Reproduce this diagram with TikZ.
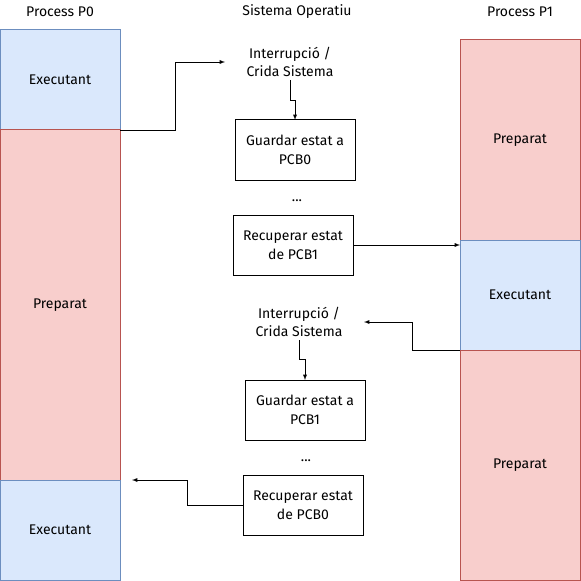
\documentclass[tikz,border=0pt]{standalone}
\usepackage{fontspec}
\setmainfont{Fira Sans}
\usepackage{tikz}
\usepackage{xcolor}
\definecolor{runFill}{HTML}{DAE8FC}
\definecolor{runLine}{HTML}{6C8EBF}
\definecolor{readyFill}{HTML}{F8CECC}
\definecolor{readyLine}{HTML}{B85450}

\begin{document}
\begin{tikzpicture}[x=0.75pt, y=-0.75pt, >=latex,
    every node/.style={outer sep=0pt, font=\fontsize{10.5}{14}\selectfont},
    running/.style={fill=runFill, draw=runLine, line width=0.75pt, minimum width=90pt},
    ready/.style={fill=readyFill, draw=readyLine, line width=0.75pt, minimum width=90pt},
    osbox/.style={draw, line width=0.75pt, minimum width=90pt, minimum height=45pt, align=center, inner sep=1pt},
    event/.style={minimum width=97.5pt, minimum height=27pt, align=center, inner sep=0pt}]
    \useasboundingbox (0,0) rectangle (581,581);

    % titles
    \node (t0) at (60,12) {Process P0};
    \node (tos) at (297,12) {Sistema Operatiu};
    \node (t1) at (520,12) {Process P1};

    % process P0
    \node[running, minimum height=75pt] (p0a) at (60,80) {Executant};
    \node[ready, minimum height=262.5pt] (p0b) at (60,305) {Preparat};
    \node[running, minimum height=75pt] (p0c) at (60,530) {Executant};

    % process P1
    \node[ready, minimum height=150pt] (p1a) at (520,140) {Preparat};
    \node[running, minimum height=82.5pt] (p1b) at (520,295) {Executant};
    \node[ready, minimum height=172.5pt] (p1c) at (520,465) {Preparat};

    % sistema operatiu
    \node[event] (int1) at (290,62) {Interrupció /\\Crida Sistema};
    \node[osbox] (save1) at (295,150) {Guardar estat a\\PCB0};
    \node (dots1) at (297,201) {...};
    \node[osbox] (load1) at (293,245) {Recuperar estat\\de PCB1};

    \node[event] (int2) at (299,322) {Interrupció /\\Crida Sistema};
    \node[osbox] (save2) at (305,410) {Guardar estat a\\PCB1};
    \node (dots2) at (306,461) {...};
    \node[osbox] (load2) at (303,505) {Recuperar estat\\de PCB0};

    \draw[->] (p0a.south east) -- ++(55,0) |- (int1.west);
    \draw[->] (int1.south) -- ++(0,20) -| (save1.north);
    \draw[->] (load1.east) -- (load1.east -| p1b.west);
    \draw[->] (p1b.south west) -- ++(-48,0) |- (int2.east);
    \draw[->] (int2.south) -- ++(0,19) -| (save2.north);
    \draw[->] (load2.west) -- ++(-56,0) |- ([xshift=9pt]p0c.north east);
\end{tikzpicture}
\end{document}
